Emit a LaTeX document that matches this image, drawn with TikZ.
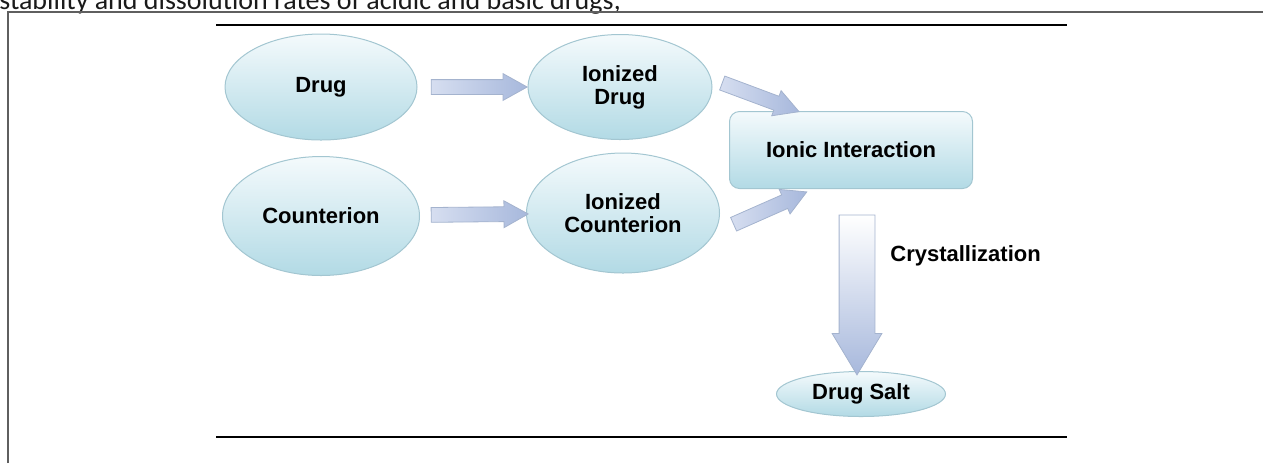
\documentclass[tikz,border=0pt]{standalone}
\usepackage{fontspec}
\setmainfont{Liberation Sans}
\newfontfamily\bodyfont{Carlito}
\usetikzlibrary{shapes.geometric,shapes.arrows}

\definecolor{bubbletop}{HTML}{F4FAFC}
\definecolor{bubblebot}{HTML}{B2DAE5}
\definecolor{bubbleline}{HTML}{A3C6D1}
\definecolor{arrowtail}{HTML}{D6DEF0}
\definecolor{arrowtip}{HTML}{A7B8DC}
\definecolor{arrowline}{HTML}{A4B3CE}
\definecolor{rulegrey}{HTML}{1A1A1A}

\tikzset{
  bubble/.style={ellipse, draw=bubbleline, line width=0.5pt,
    top color=bubbletop, bottom color=bubblebot, inner sep=0pt,
    align=center, font=\bfseries\fontsize{11}{11.5}\selectfont},
  panel/.style={rectangle, rounded corners=5pt, draw=bubbleline, line width=0.5pt,
    top color=bubbletop, bottom color=bubblebot, inner sep=0pt,
    align=center, font=\bfseries\fontsize{11}{11.5}\selectfont},
  fatarrow/.style={single arrow, draw=arrowline, line width=0.4pt,
    left color=arrowtail, right color=arrowtip, inner xsep=0pt, inner ysep=3.5pt,
    single arrow head extend=3pt, single arrow tip angle=58,
    midway, sloped, allow upside down, anchor=center},
  bigarrow/.style={fatarrow, top color=white, bottom color=arrowtip, inner ysep=8.75pt,
    single arrow head extend=3.5pt, single arrow tip angle=62},
}

\begin{document}
\begin{tikzpicture}[x=0.5pt, y=-0.5pt]
  \useasboundingbox (0,0) rectangle (1263,463);

  % page frame and figure rules
  \node[anchor=base west, inner sep=0pt, text=rulegrey,
    font=\bodyfont\fontsize{14}{16}\selectfont] (caption) at (-1,9)
    {stability and dissolution rates of acidic and basic drugs;};
  \draw[rulegrey!70, line width=1pt] (8,463) -- (8,12) -- (1263,12);
  \draw[black, line width=1.2pt] (216,25) -- (1067,25);
  \draw[black, line width=1.2pt] (216,437) -- (1067,437);

  % species
  \draw (321,87)  node[bubble, minimum width=96pt, minimum height=53pt] (drug) {Drug};
  \draw (620,87)  node[bubble, minimum width=92pt, minimum height=52.5pt] (idrug) {Ionized\\Drug};
  \draw (321,216) node[bubble, minimum width=98.5pt, minimum height=59.5pt] (counter) {Counterion};
  \draw (623,213) node[bubble, minimum width=96.5pt, minimum height=60pt] (icounter) {Ionized\\Counterion};
  \draw (851,150) node[panel, minimum width=121.5pt, minimum height=38.5pt] (ionic) {Ionic Interaction};
  \draw (861,394) node[bubble, minimum width=84.5pt, minimum height=22.5pt] (salt) {Drug Salt};
  \draw (890,256) node[anchor=west, inner sep=0pt,
    font=\bfseries\fontsize{11}{11.5}\selectfont] (cryst) {Crystallization};

  % block arrows
  \path (drug) -- (idrug) node[fatarrow, minimum height=48pt] (a1) {};
  \path (counter) -- (icounter) node[fatarrow, minimum height=48.5pt] (a2) {};
  \path (idrug.5) -- (ionic.144) node[fatarrow, minimum height=41pt] (a3) {};
  \path (icounter.-12) -- (ionic.226) node[fatarrow, minimum height=40pt] (a4) {};
  \path ([xshift=3pt]ionic.south) -- ([xshift=-2pt]salt.north)
    node[bigarrow, minimum height=80pt] (a5) {};

\end{tikzpicture}
\end{document}
